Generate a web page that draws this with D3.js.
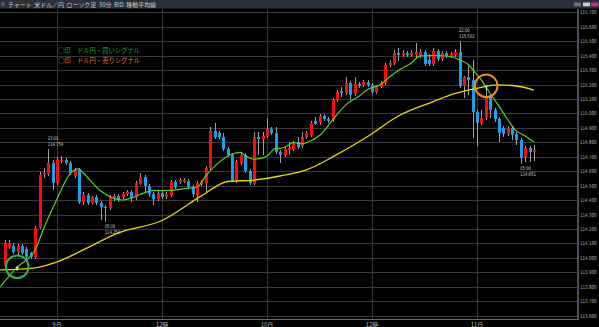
<!DOCTYPE html>
<html>
<head>
<meta charset="utf-8">
<script src="https://cdn.jsdelivr.net/npm/d3@7/dist/d3.min.js"></script>
<style>
body{margin:0;background:#000;overflow:hidden}
svg{display:block}
.num{font-family:"DejaVu Sans Condensed","Liberation Sans",sans-serif}
.jp{font-family:"Noto Sans CJK JP","Noto Sans",sans-serif}
</style>
</head>
<body>
<svg id="chart" width="599" height="327"></svg>
<script>
// USD/JPY 30 min candles, index 0..121
var openP=[113.951,114.076,114.082,114.041,114.082,114.062,114.034,114.007,114.207,114.574,
114.581,114.657,114.518,114.671,114.678,114.657,114.567,114.609,114.387,114.436,
114.380,114.422,114.380,114.353,114.346,114.415,114.429,114.422,114.442,114.456,
114.415,114.512,114.560,114.498,114.442,114.408,114.449,114.422,114.436,114.525,
114.525,114.525,114.532,114.491,114.436,114.512,114.518,114.622,114.879,114.865,
114.837,114.754,114.712,114.539,114.657,114.712,114.602,114.512,114.837,114.823,
114.844,114.892,114.865,114.733,114.712,114.747,114.754,114.802,114.775,114.837,
114.851,114.948,114.934,114.982,114.962,114.955,115.093,115.155,115.142,115.211,
115.135,115.204,115.197,115.218,115.197,115.148,115.183,115.211,115.335,115.349,
115.418,115.405,115.418,115.405,115.405,115.398,115.425,115.370,115.342,115.432,
115.377,115.418,115.398,115.405,115.425,115.190,115.252,115.231,115.010,114.934,
114.968,115.114,115.024,114.962,114.899,114.858,114.899,114.858,114.816,114.699,
114.761,114.733];
var highP=[114.124,114.124,114.103,114.096,114.096,114.076,114.041,114.221,114.595,114.622,
114.754,114.678,114.699,114.705,114.692,114.671,114.622,114.622,114.456,114.449,
114.429,114.436,114.394,114.366,114.436,114.442,114.442,114.456,114.470,114.470,
114.532,114.588,114.574,114.512,114.456,114.463,114.463,114.456,114.539,114.539,
114.553,114.553,114.546,114.505,114.532,114.539,114.636,114.906,114.934,114.879,
114.865,114.768,114.726,114.678,114.733,114.726,114.616,114.872,114.872,114.872,
114.968,114.906,114.906,114.747,114.768,114.802,114.809,114.837,114.872,114.879,
114.948,114.975,114.996,114.996,114.975,115.107,115.162,115.183,115.252,115.225,
115.252,115.218,115.231,115.231,115.211,115.197,115.225,115.349,115.370,115.439,
115.453,115.439,115.432,115.439,115.488,115.446,115.439,115.411,115.453,115.446,
115.432,115.432,115.425,115.446,115.502,115.259,115.328,115.370,115.024,115.024,
115.197,115.128,115.038,114.975,114.913,114.913,114.913,114.872,114.830,114.775,
114.775,114.782];
var lowP=[113.931,114.062,114.027,114.014,114.020,113.993,113.993,113.993,114.200,114.553,
114.567,114.470,114.505,114.657,114.643,114.574,114.553,114.373,114.366,114.366,
114.373,114.366,114.263,114.250,114.332,114.394,114.387,114.408,114.429,114.387,
114.401,114.505,114.449,114.422,114.366,114.394,114.408,114.408,114.422,114.477,
114.512,114.518,114.477,114.422,114.387,114.498,114.449,114.609,114.823,114.823,
114.740,114.699,114.525,114.518,114.643,114.588,114.505,114.505,114.712,114.712,
114.830,114.851,114.719,114.657,114.699,114.712,114.740,114.754,114.761,114.823,
114.837,114.920,114.920,114.948,114.934,114.941,115.079,115.114,115.128,115.093,
115.121,115.176,115.183,115.183,115.135,115.135,115.176,115.197,115.321,115.335,
115.363,115.391,115.391,115.391,115.384,115.384,115.328,115.328,115.328,115.363,
115.363,115.384,115.384,115.391,115.176,115.107,115.128,114.830,114.775,114.920,
114.955,114.968,114.941,114.802,114.837,114.844,114.816,114.782,114.651,114.664,
114.664,114.671];
var closeP=[114.103,114.103,114.041,114.082,114.034,114.007,114.007,114.207,114.574,114.588,
114.657,114.518,114.678,114.678,114.657,114.588,114.609,114.387,114.436,114.380,
114.422,114.380,114.353,114.346,114.422,114.429,114.401,114.442,114.456,114.415,
114.518,114.560,114.498,114.442,114.408,114.449,114.422,114.442,114.525,114.491,
114.539,114.539,114.491,114.442,114.518,114.525,114.622,114.879,114.837,114.837,
114.754,114.712,114.539,114.664,114.712,114.602,114.518,114.837,114.823,114.844,
114.892,114.865,114.733,114.712,114.754,114.761,114.795,114.768,114.837,114.865,
114.934,114.927,114.982,114.962,114.948,115.093,115.148,115.142,115.211,115.128,
115.204,115.190,115.218,115.197,115.148,115.183,115.211,115.335,115.349,115.418,
115.405,115.418,115.405,115.418,115.425,115.425,115.342,115.342,115.432,115.377,
115.418,115.398,115.411,115.425,115.190,115.252,115.231,115.010,114.934,114.968,
115.114,115.024,114.962,114.865,114.858,114.899,114.851,114.816,114.692,114.761,
114.733,114.747];

// moving averages (candle index, price)
var shortIdx=[-1,3,6,7,9,12,15,17,18,22,25,27,34,38,42,44,46,49,52,54,55,57,59,60,62,63,65,66,68,70,72,75,78,81,83,86,88,90,93,95,98,102,104,106,107,109,111,113,115,117,119,121];
var shortVal=[113.799,113.938,114.014,114.055,114.207,114.408,114.581,114.616,114.588,114.463,114.412,114.401,114.466,114.467,114.483,114.489,114.567,114.661,114.719,114.731,114.709,114.683,114.692,114.705,114.758,114.758,114.782,114.800,114.789,114.811,114.847,114.955,115.059,115.119,115.166,115.200,115.252,115.297,115.349,115.398,115.401,115.394,115.370,115.339,115.304,115.231,115.138,115.052,114.958,114.879,114.844,114.802];
var longIdx=[-1,7,12,18,26,36,45,51,57,63,69,72,75,83,90,98,103,108,113,117,121];
var longVal=[113.917,113.931,113.972,114.055,114.173,114.259,114.429,114.529,114.539,114.567,114.609,114.650,114.699,114.840,114.982,115.082,115.138,115.174,115.197,115.190,115.162];

// signals (MA crosses)
var sigIdx=[2.9,110.1];
var sigPrice=[113.939,115.191];
var sigType=['buy','sell'];

// high / low notes
var annIdx=[10,23,104,118];
var annTime=['23:00','05:00','22:00','05:00'];
var annPrice=[114.754,114.250,115.502,114.651];
var annSide=['high','low','high','low'];

var yTicks=[113.6,113.7,113.8,113.9,114.0,114.1,114.2,114.3,114.4,114.5,114.6,114.7,114.8,114.9,115.0,115.1,115.2,115.3,115.4,115.5,115.6,115.7];
var dateIdx=[12,36,60,84,108];
var dateLab=['9日','12時','10日','12時','11日'];

var legendText=['○印　ドル円・買いシグナル','○印　ドル円・売りシグナル'];
var titleText='チャート  米ドル／円  ローソク足  30分  BID  移動平均線';

var W=599,H=327,axisX=578,bottomY=319.5;
var svg=d3.select('#chart');
var x=d3.scaleLinear().domain([0,121]).range([4.5,533.9]);
var y=d3.scaleLinear().domain([113.6,115.7]).range([315.7,12.3]);

svg.append('rect').attr('width',W).attr('height',H).attr('fill','#000');

svg.append('defs').append('clipPath').attr('id','plot')
    .append('rect').attr('x',0).attr('y',9).attr('width',axisX).attr('height',bottomY-9);

// grid
var grid=svg.append('g').attr('shape-rendering','crispEdges');
grid.selectAll('.hg').data(yTicks).enter().append('line')
    .attr('x1',0).attr('x2',axisX)
    .attr('y1',function(d){return Math.round(y(d))+0.5})
    .attr('y2',function(d){return Math.round(y(d))+0.5})
    .attr('stroke','#383838');
grid.selectAll('.vg').data(dateIdx).enter().append('line')
    .attr('x1',function(d){return Math.round(x(d))+0.5})
    .attr('x2',function(d){return Math.round(x(d))+0.5})
    .attr('y1',9).attr('y2',bottomY)
    .attr('stroke','#383838');

// axis frame
svg.append('line').attr('x1',0).attr('x2',axisX).attr('y1',bottomY).attr('y2',bottomY)
    .attr('stroke','#6a6a6a').attr('stroke-width',1.2);
svg.append('line').attr('x1',axisX).attr('x2',axisX).attr('y1',9).attr('y2',bottomY+0.6)
    .attr('stroke','#6a6a6a').attr('stroke-width',1.5);

svg.selectAll('.yl').data(yTicks).enter().append('text')
    .attr('class','num')
    .attr('x',580).attr('y',function(d){return y(d)+2})
    .attr('font-size',5.3).attr('fill','#b8b8b8')
    .attr('textLength',16.5).attr('lengthAdjust','spacingAndGlyphs')
    .text(function(d){return d3.format('.3f')(d)});

svg.selectAll('.dl').data(dateIdx).enter().append('text')
    .attr('class','jp')
    .attr('x',function(d){return x(d)}).attr('y',326.5)
    .attr('text-anchor','middle')
    .attr('font-size',6).attr('fill','#b0b0b0')
    .text(function(d,i){return dateLab[i]});

// candles
var plot=svg.append('g').attr('clip-path','url(#plot)');
var idx=d3.range(openP.length);
plot.selectAll('.wick').data(idx).enter().append('line')
    .attr('x1',function(i){return Math.round(x(i))+0.5})
    .attr('x2',function(i){return Math.round(x(i))+0.5})
    .attr('y1',function(i){return y(highP[i])})
    .attr('y2',function(i){return y(lowP[i])})
    .attr('stroke','#a0a0a0').attr('stroke-width',1);
plot.selectAll('.body').data(idx).enter().append('rect')
    .attr('x',function(i){return Math.round(x(i))-1})
    .attr('width',3)
    .attr('y',function(i){return Math.min(y(openP[i]),y(closeP[i]))})
    .attr('height',function(i){return Math.max(1,Math.abs(y(openP[i])-y(closeP[i])))})
    .attr('fill',function(i){return closeP[i]>=openP[i]?'#ff0a0a':'#18a0ee'});

// moving averages
var line=d3.line().x(function(d){return x(d[0])}).y(function(d){return y(d[1])}).curve(d3.curveMonotoneX);
plot.append('path').datum(d3.zip(longIdx,longVal))
    .attr('d',line).attr('fill','none').attr('stroke','#e8d800').attr('stroke-width',1.3);
plot.append('path').datum(d3.zip(shortIdx,shortVal))
    .attr('d',line).attr('fill','none').attr('stroke','#5ad21e').attr('stroke-width',1.2);

// signal circles
var sigCol={buy:'#2fb552',sell:'#f08a2c'};
var markCol={buy:'#f0f0f0',sell:'#9fd6ff'};
sigIdx.forEach(function(d,i){
    var cx=x(d),cy=y(sigPrice[i]);
    plot.append('line').attr('x1',cx-1.5).attr('x2',cx+1.5).attr('y1',cy+1).attr('y2',cy+1)
        .attr('stroke',markCol[sigType[i]]).attr('stroke-width',1);
    plot.append('line').attr('x1',cx).attr('x2',cx).attr('y1',cy-1).attr('y2',cy+4)
        .attr('stroke',markCol[sigType[i]]).attr('stroke-width',1);
    plot.append('circle').attr('cx',cx).attr('cy',cy).attr('r',11.3)
        .attr('fill','none').attr('stroke',sigCol[sigType[i]]).attr('stroke-width',2);
});

// high/low notes
annIdx.forEach(function(d,i){
    var tx=x(d)-0.5, py=y(annPrice[i]);
    var y1=annSide[i]=='high'?py-9:py+6.5;
    var g=svg.append('g').attr('class','num').attr('font-size',5.2).attr('fill','#d0d0d0');
    g.append('text').attr('x',tx).attr('y',y1)
        .attr('textLength',10.5).attr('lengthAdjust','spacingAndGlyphs').text(annTime[i]);
    g.append('text').attr('x',tx).attr('y',y1+5.6)
        .attr('textLength',15.5).attr('lengthAdjust','spacingAndGlyphs').text(d3.format('.3f')(annPrice[i]));
});

// legend
svg.selectAll('.lg').data(legendText).enter().append('text')
    .attr('class','jp')
    .attr('x',58).attr('y',function(d,i){return 52.5+i*10.5})
    .attr('font-size',6.4)
    .attr('textLength',82).attr('lengthAdjust','spacingAndGlyphs')
    .attr('fill',function(d,i){return i==0?'#22a83a':'#e8782a'})
    .text(function(d){return d});

// title bar
svg.append('rect').attr('width',W).attr('height',8.5).attr('fill','#2c3136');
svg.append('rect').attr('x',1.5).attr('y',2).attr('width',3).attr('height',4.5).attr('fill','#55595e');
svg.append('text').attr('class','jp').attr('x',8).attr('y',6.8)
    .attr('font-size',6.2).attr('fill','#c8c8c8').attr('xml:space','preserve')
    .attr('textLength',148).attr('lengthAdjust','spacingAndGlyphs')
    .text(titleText);
var btn=[['#6b6f74',574],['#c9ccd0',583],['#d81f86',591]];
btn.forEach(function(b){
    svg.append('rect').attr('x',b[1]).attr('y',2.5).attr('width',7).attr('height',3.8).attr('fill',b[0]);
});
</script>
</body>
</html>
